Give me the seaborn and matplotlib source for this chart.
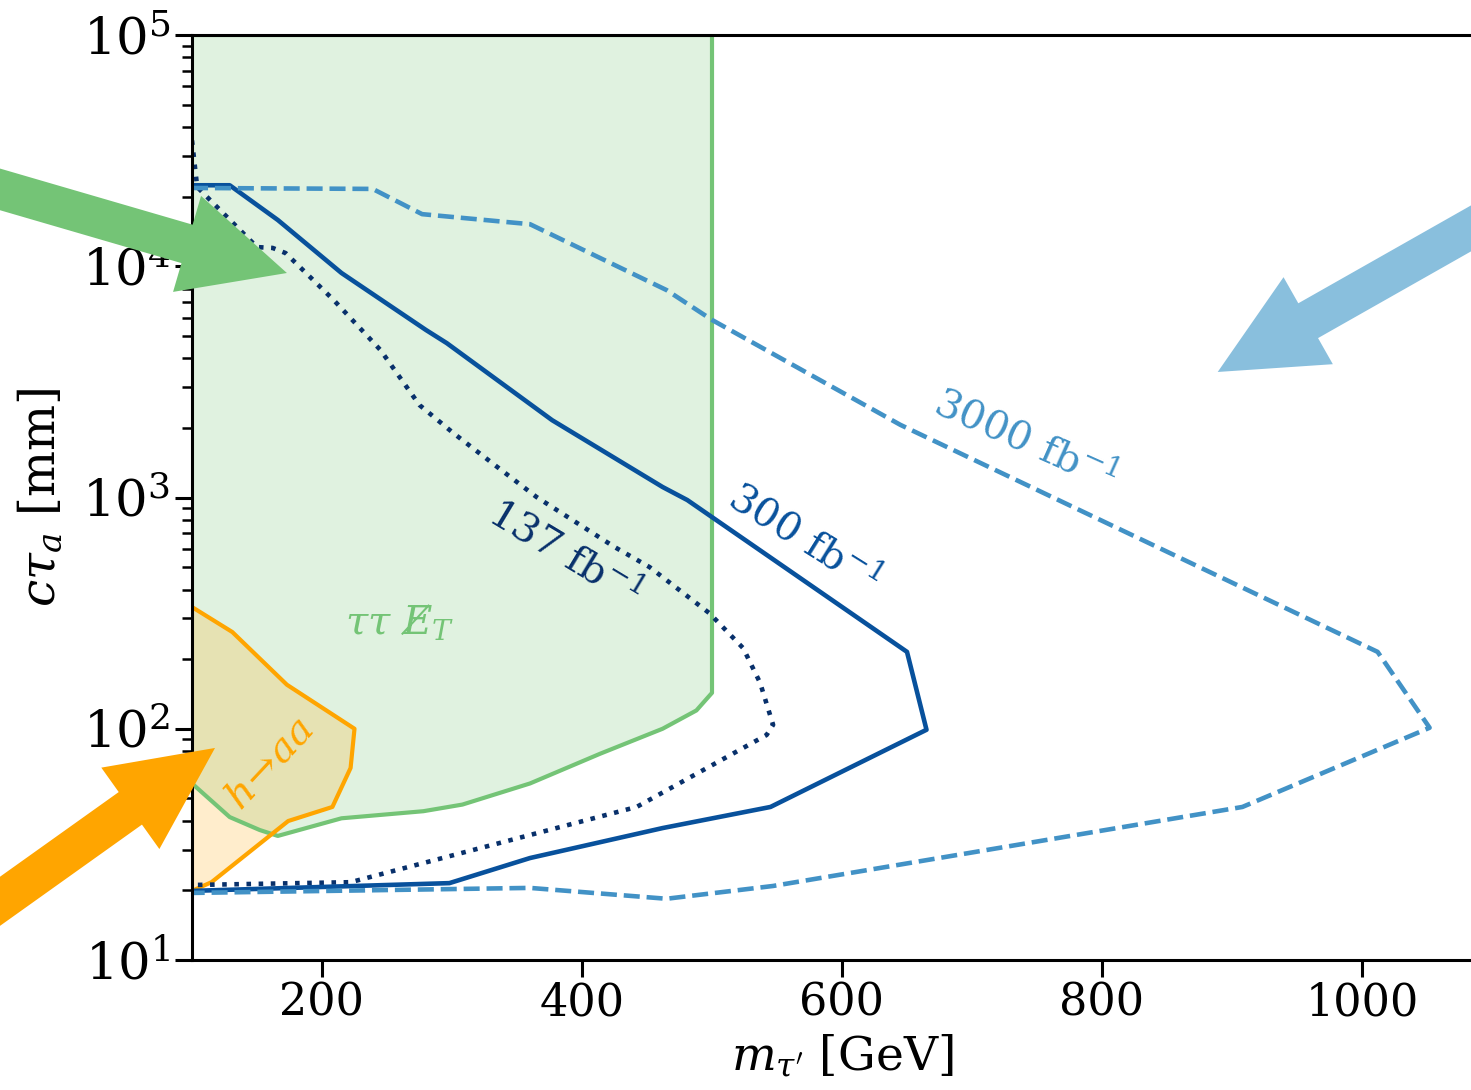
import matplotlib
matplotlib.use("Agg")
import matplotlib.pyplot as plt
import numpy as np
import pandas as pd
import seaborn as sns

# ---- data (m_tau' in GeV, c tau_a in mm) ----
# tau tau + MET excluded region
met_x = [100, 500, 500, 488, 462, 414, 360, 308, 278, 215, 166, 152, 129, 100]
met_y = [1e5, 1e5, 143, 120, 100, 78, 58, 47, 44, 41, 34.4, 36.5, 41.5, 58]

# h -> aa excluded region
haa_x = [100, 131, 173, 225, 222, 208, 174, 115, 100]
haa_y = [336, 262, 155, 100, 67.7, 45.9, 39.9, 21.7, 19.9]

# projected reach, 137 fb^-1 (dotted)
l137_x = [100, 104, 150, 162, 172, 209, 245, 275, 301, 333, 365, 425, 452, 498,
          524, 537, 547, 542, 442, 222, 100]
l137_y = [35000, 22000, 12100, 12000, 11400, 7140, 4340, 2510, 1900, 1380, 1005,
          611, 500, 316, 223, 158, 104, 94, 45.9, 21.7, 21.1]

# 300 fb^-1 (solid)
l300_x = [100, 129, 166, 215, 280, 296, 377, 462, 481, 650, 665, 545, 462, 360, 298, 100]
l300_y = [22400, 22400, 15850, 9350, 5300, 4650, 2160, 1110, 975, 215, 99,
          45.9, 37.2, 27.6, 21.5, 19.9]

# 3000 fb^-1 (dashed)
l3000_x = [100, 239, 277, 360, 465, 500, 645, 1012, 1052, 908, 547, 465, 360, 100]
l3000_y = [21800, 21600, 16800, 15200, 7890, 5860, 2060, 215, 101, 45.9, 20.9,
           18.4, 20.5, 19.5]

xticks = [200, 400, 600, 800, 1000]

green = "#74c476"
orange = "#ffa500"
c137 = "#08306b"
c300 = "#08519c"
c3000 = "#4292c6"

sns.set_style("ticks")
plt.rcParams["font.family"] = ["DejaVu Serif"]
plt.rcParams["mathtext.fontset"] = "dejavuserif"
for k in ["text.color", "axes.labelcolor", "xtick.color", "ytick.color", "axes.edgecolor"]:
    plt.rcParams[k] = "black"

fig = plt.figure(figsize=(14.71, 10.9), dpi=100)
ax = fig.add_axes([192 / 1471, 130 / 1090, 1300 / 1471, 925 / 1090])

# filled exclusion regions
ax.fill(met_x, met_y, color=green, alpha=0.22, lw=0)
ax.fill(haa_x, haa_y, color=orange, alpha=0.2, lw=0)
ax.plot(met_x, met_y, color=green, lw=3)
ax.plot(haa_x, haa_y, color=orange, lw=3)

curves = pd.concat([
    pd.DataFrame({"m": l137_x, "ctau": l137_y, "lumi": "137"}),
    pd.DataFrame({"m": l300_x, "ctau": l300_y, "lumi": "300"}),
    pd.DataFrame({"m": l3000_x, "ctau": l3000_y, "lumi": "3000"}),
])
sns.lineplot(data=curves, x="m", y="ctau", hue="lumi", style="lumi",
             palette={"137": c137, "300": c300, "3000": c3000},
             dashes={"137": (1, 1.65), "300": "", "3000": (3.5, 1.5)},
             sort=False, estimator=None, lw=3.3, legend=False, ax=ax)

ax.set_yscale("log")
ax.set_xlim(100, 1100)
ax.set_ylim(10, 1e5)
ax.set_xticks(xticks)

ax.set_xlabel(r"$m_{\tau'}$ [GeV]", fontsize=34, labelpad=6)
ax.set_ylabel(r"$c\tau_a$ [mm]", fontsize=35, labelpad=12)
ax.tick_params(axis="x", which="major", labelsize=32, length=12, width=2.2,
               direction="out")
ax.tick_params(axis="y", which="major", labelsize=37, length=12, width=2.2,
               direction="out")
ax.tick_params(axis="y", which="minor", length=7, width=1.8, direction="out")
for s in ax.spines.values():
    s.set_linewidth(2.2)

# curve labels
ax.text(387, 576, r"137 fb$^{-1}$", color=c137, fontsize=29, rotation=-31,
        ha="center", va="center", rotation_mode="anchor")
ax.text(571, 668, r"300 fb$^{-1}$", color=c300, fontsize=29, rotation=-32,
        ha="center", va="center", rotation_mode="anchor")
ax.text(741, 1775, r"3000 fb$^{-1}$", color=c3000, fontsize=29, rotation=-24,
        ha="center", va="center", rotation_mode="anchor")
ax.text(260, 290, r"$\tau\tau\ E\not_T$", color=green, fontsize=29,
        ha="center", va="center")
ax.text(160, 70, r"$h\!\to\! aa$", color=orange, fontsize=29, rotation=47,
        ha="center", va="center", rotation_mode="anchor")

# pointer arrows
arrows = [
    ((-94, 25600), (173, 9350), green),
    ((-94, 11.7), (117.7, 82.6), orange),
    ((1129, 20300), (889, 3490), "#89bfdd"),
]
for tail, tip, col in arrows:
    ax.annotate("", xy=tip, xytext=tail, annotation_clip=False,
                arrowprops=dict(arrowstyle="simple,head_length=1.04,head_width=1.0,tail_width=0.4",
                                mutation_scale=72, color=col, lw=0,
                                shrinkA=0, shrinkB=0),
                zorder=5)

fig.savefig("out.png", dpi=100)
